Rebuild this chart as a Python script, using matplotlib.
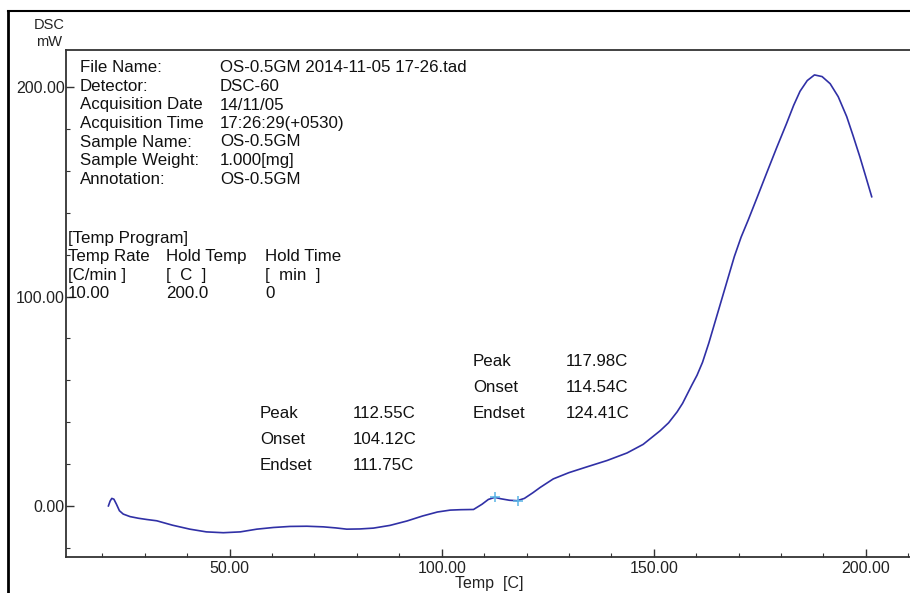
import matplotlib
matplotlib.use('Agg')
import matplotlib.pyplot as plt
from matplotlib.lines import Line2D
from matplotlib.ticker import MultipleLocator, FormatStrFormatter

plt.rcParams['font.family'] = ['Liberation Sans', 'DejaVu Sans']

# DSC curve (Temp [C], DSC [mW])
temp = [21.4, 21.8, 22.2, 22.7, 23.3, 24.0, 24.9, 26.5, 28.5, 30.5, 32.8, 36.5,
        40.6, 44.5, 48.5, 52.5, 56.4, 60.3, 64.2, 68.2, 72.1, 75.0, 77.6, 80.7,
        83.9, 87.8, 91.8, 95.5, 99.0, 102.0, 104.5, 107.5, 109.5, 111.0, 112.5,
        114.0, 116.0, 117.8, 119.5, 121.5, 123.2, 126.3, 130.0, 134.3, 139.0,
        143.7, 147.5, 151.5, 153.5, 155.5, 156.8, 157.9, 159.0, 160.2, 161.5,
        163.0, 164.5, 166.0, 167.5, 169.0, 170.6, 172.3, 174.5, 176.6, 179.0,
        181.3, 183.0, 184.5, 186.2, 187.9, 189.7, 191.6, 193.5, 195.5, 197.0,
        198.6, 200.0, 201.4]
dsc = [0.0, 2.3, 3.6, 3.2, 0.8, -2.3, -3.9, -5.1, -5.9, -6.5, -7.1, -9.2,
       -11.1, -12.4, -12.8, -12.4, -11.1, -10.3, -9.8, -9.7, -10.0, -10.5, -11.1, -11.0,
       -10.6, -9.3, -7.2, -4.8, -2.9, -2.0, -1.8, -1.7, 0.8, 3.1, 4.1,
       3.4, 2.7, 2.5, 3.6, 6.3, 8.8, 12.9, 15.9, 18.7, 21.7,
       25.3, 29.4, 35.9, 39.7, 44.9, 49.0, 53.4, 57.8, 62.4, 68.6,
       77.9, 88.2, 98.5, 108.8, 119.1, 128.4, 136.7, 148.0, 158.9, 171.2,
       182.6, 191.4, 198.1, 203.2, 205.9, 205.1, 201.7, 195.5, 186.0, 176.9,
       166.8, 157.3, 147.7]

peak_temps = [112.55, 117.98]
peak_vals = [4.1, 2.5]

info_labels = ['File Name:', 'Detector:', 'Acquisition Date', 'Acquisition Time',
               'Sample Name:', 'Sample Weight:', 'Annotation:']
info_values = ['OS-0.5GM 2014-11-05 17-26.tad', 'DSC-60', '14/11/05',
               '17:26:29(+0530)', 'OS-0.5GM', '1.000[mg]', 'OS-0.5GM']

prog_cols = [['Temp Rate', '[C/min ]', '10.00'],
             ['Hold Temp', '[  C  ]', '200.0'],
             ['Hold Time', '[  min  ]', '0']]

res1 = [('Peak', '112.55C'), ('Onset', '104.12C'), ('Endset', '111.75C')]
res2 = [('Peak', '117.98C'), ('Onset', '114.54C'), ('Endset', '124.41C')]

W, H = 910, 593
fig = plt.figure(figsize=(W / 100, H / 100), dpi=100)

def px(x, y):
    return x / W, 1 - y / H

# axes box in pixels: left 66, right just past the edge, top 50, bottom 557
ax = fig.add_axes([66 / W, 1 - 557 / H, (912 - 66) / W, (557 - 50) / H])
ax.plot(temp, dsc, color='#3030a6', lw=1.2)
ax.plot(peak_temps, peak_vals, ls='none', marker='+', ms=7, mew=1.1, color='#5ab4e6')

ax.set_xlim(11.4, 210.9)
ax.set_ylim(-24.4, 217.8)
ax.xaxis.set_major_locator(MultipleLocator(50))
ax.xaxis.set_minor_locator(MultipleLocator(10))
ax.yaxis.set_major_locator(MultipleLocator(100))
ax.yaxis.set_minor_locator(MultipleLocator(20))
ax.xaxis.set_major_formatter(FormatStrFormatter('%.2f'))
ax.yaxis.set_major_formatter(FormatStrFormatter('%.2f'))
ax.tick_params(which='both', direction='in', color='#333333', labelsize=11.5,
               labelcolor='#222222')
ax.tick_params(which='major', length=6, width=1)
ax.tick_params(which='minor', length=3, width=0.8)
ax.tick_params(axis='y', pad=1)
ax.tick_params(axis='x', pad=3)
for s in ax.spines.values():
    s.set_color('#333333')
    s.set_linewidth(1.3)
ax.set_xlabel('Temp  [C]', fontsize=11.5, color='#222222', labelpad=0)

# outer frame of the screenshot
fig.add_artist(Line2D([8 / W, 8 / W], [0, 1 - 11 / H], color='black', lw=2))
fig.add_artist(Line2D([8 / W, 1], [1 - 11 / H, 1 - 11 / H], color='black', lw=1.5))

fs = 12.2
fig.text(*px(49, 25), 'DSC', fontsize=10.5, ha='center', va='center', color='#222222')
fig.text(*px(49, 42), 'mW', fontsize=10.5, ha='center', va='center', color='#222222')

for i, (lab, val) in enumerate(zip(info_labels, info_values)):
    y = 68 + i * 18.5
    fig.text(*px(80, y), lab, fontsize=fs, va='center', color='#111111')
    fig.text(*px(220, y), val, fontsize=fs, va='center', color='#111111')

fig.text(*px(68, 239), '[Temp Program]', fontsize=fs, va='center', color='#111111')
col_x = [68, 166, 265]
for cx, col in zip(col_x, prog_cols):
    for j, t in enumerate(col):
        fig.text(*px(cx, 257 + j * 18), t, fontsize=fs, va='center', color='#111111')

for j, (a, b) in enumerate(res1):
    y = 413 + j * 26
    fig.text(*px(260, y), a, fontsize=fs, va='center', color='#111111')
    fig.text(*px(353, y), b, fontsize=fs, va='center', color='#111111')
for j, (a, b) in enumerate(res2):
    y = 362 + j * 25.5
    fig.text(*px(473, y), a, fontsize=fs, va='center', color='#111111')
    fig.text(*px(566, y), b, fontsize=fs, va='center', color='#111111')

fig.savefig('out.png', dpi=100)
